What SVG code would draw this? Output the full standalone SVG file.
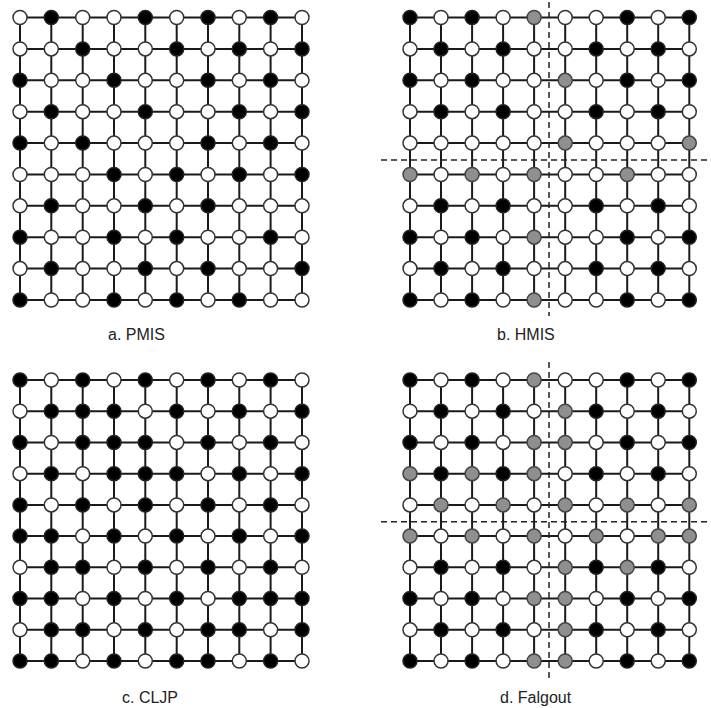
<svg xmlns="http://www.w3.org/2000/svg" xmlns:xlink="http://www.w3.org/1999/xlink" width="711" height="708" viewBox="0 0 711 708">
<style>
.edge{fill:none;stroke:#1a1a1a;stroke-width:2}
.dash{fill:none;stroke:#222;stroke-width:1.5;stroke-dasharray:6 4}
.w{fill:#fff;stroke:#333;stroke-width:1.5}
.b{fill:#000;stroke:#222;stroke-width:1.5}
.g{fill:#8f8f8f;stroke:#444;stroke-width:1.5}
.lbl{font-family:"Liberation Sans",Arial,sans-serif;font-size:16px;fill:#222}
</style>
<defs>
<circle id="W" r="7" class="w"/>
<circle id="B" r="7" class="b"/>
<circle id="G" r="7" class="g"/>
</defs>
<rect width="711" height="708" fill="#fff"/>
<g id="connectors">
<path id="edges-a" class="edge" d="M20 17.5H302M20 48.9H302M20 80.3H302M20 111.7H302M20 143.1H302M20 174.5H302M20 205.8H302M20 237.2H302M20 268.6H302M20 300H302M20 17.5V300M51.3 17.5V300M82.7 17.5V300M114 17.5V300M145.3 17.5V300M176.7 17.5V300M208 17.5V300M239.3 17.5V300M270.6 17.5V300M302 17.5V300"/>
<path id="edges-b" class="edge" d="M410 17.5H689.3M410 48.9H689.3M410 80.3H689.3M410 111.7H689.3M410 143.1H689.3M410 174.5H689.3M410 205.8H689.3M410 237.2H689.3M410 268.6H689.3M410 300H689.3M410 17.5V300M441 17.5V300M472.1 17.5V300M503.1 17.5V300M534.1 17.5V300M565.2 17.5V300M596.2 17.5V300M627.2 17.5V300M658.2 17.5V300M689.3 17.5V300"/>
<path id="edges-c" class="edge" d="M20 380H302M20 411.2H302M20 442.4H302M20 473.7H302M20 504.9H302M20 536.1H302M20 567.3H302M20 598.5H302M20 629.8H302M20 661H302M20 380V661M51.3 380V661M82.7 380V661M114 380V661M145.3 380V661M176.7 380V661M208 380V661M239.3 380V661M270.6 380V661M302 380V661"/>
<path id="edges-d" class="edge" d="M410 380H689.3M410 411.2H689.3M410 442.4H689.3M410 473.7H689.3M410 504.9H689.3M410 536.1H689.3M410 567.3H689.3M410 598.5H689.3M410 629.8H689.3M410 661H689.3M410 380V661M441 380V661M472.1 380V661M503.1 380V661M534.1 380V661M565.2 380V661M596.2 380V661M627.2 380V661M658.2 380V661M689.3 380V661"/>
<path id="partition-b" class="dash" d="M549 2V316M381 160H711"/>
<path id="partition-d" class="dash" d="M549 362V680M381 521.7H711"/>
</g>
<g id="grid-a">
<g transform="translate(0,17.5)"><use id="a1-1" href="#W" x="20"/><use id="a1-2" href="#B" x="51.3"/><use id="a1-3" href="#W" x="82.7"/><use id="a1-4" href="#W" x="114"/><use id="a1-5" href="#B" x="145.3"/><use id="a1-6" href="#W" x="176.7"/><use id="a1-7" href="#B" x="208"/><use id="a1-8" href="#W" x="239.3"/><use id="a1-9" href="#B" x="270.6"/><use id="a1-10" href="#W" x="302"/></g>
<g transform="translate(0,48.9)"><use id="a2-1" href="#W" x="20"/><use id="a2-2" href="#W" x="51.3"/><use id="a2-3" href="#B" x="82.7"/><use id="a2-4" href="#W" x="114"/><use id="a2-5" href="#W" x="145.3"/><use id="a2-6" href="#B" x="176.7"/><use id="a2-7" href="#W" x="208"/><use id="a2-8" href="#B" x="239.3"/><use id="a2-9" href="#W" x="270.6"/><use id="a2-10" href="#B" x="302"/></g>
<g transform="translate(0,80.3)"><use id="a3-1" href="#B" x="20"/><use id="a3-2" href="#W" x="51.3"/><use id="a3-3" href="#W" x="82.7"/><use id="a3-4" href="#B" x="114"/><use id="a3-5" href="#W" x="145.3"/><use id="a3-6" href="#W" x="176.7"/><use id="a3-7" href="#B" x="208"/><use id="a3-8" href="#W" x="239.3"/><use id="a3-9" href="#B" x="270.6"/><use id="a3-10" href="#W" x="302"/></g>
<g transform="translate(0,111.7)"><use id="a4-1" href="#W" x="20"/><use id="a4-2" href="#B" x="51.3"/><use id="a4-3" href="#W" x="82.7"/><use id="a4-4" href="#W" x="114"/><use id="a4-5" href="#B" x="145.3"/><use id="a4-6" href="#W" x="176.7"/><use id="a4-7" href="#W" x="208"/><use id="a4-8" href="#B" x="239.3"/><use id="a4-9" href="#W" x="270.6"/><use id="a4-10" href="#B" x="302"/></g>
<g transform="translate(0,143.1)"><use id="a5-1" href="#B" x="20"/><use id="a5-2" href="#W" x="51.3"/><use id="a5-3" href="#B" x="82.7"/><use id="a5-4" href="#W" x="114"/><use id="a5-5" href="#W" x="145.3"/><use id="a5-6" href="#W" x="176.7"/><use id="a5-7" href="#B" x="208"/><use id="a5-8" href="#W" x="239.3"/><use id="a5-9" href="#B" x="270.6"/><use id="a5-10" href="#W" x="302"/></g>
<g transform="translate(0,174.5)"><use id="a6-1" href="#W" x="20"/><use id="a6-2" href="#W" x="51.3"/><use id="a6-3" href="#W" x="82.7"/><use id="a6-4" href="#B" x="114"/><use id="a6-5" href="#W" x="145.3"/><use id="a6-6" href="#B" x="176.7"/><use id="a6-7" href="#W" x="208"/><use id="a6-8" href="#B" x="239.3"/><use id="a6-9" href="#W" x="270.6"/><use id="a6-10" href="#B" x="302"/></g>
<g transform="translate(0,205.8)"><use id="a7-1" href="#W" x="20"/><use id="a7-2" href="#B" x="51.3"/><use id="a7-3" href="#W" x="82.7"/><use id="a7-4" href="#W" x="114"/><use id="a7-5" href="#B" x="145.3"/><use id="a7-6" href="#W" x="176.7"/><use id="a7-7" href="#B" x="208"/><use id="a7-8" href="#W" x="239.3"/><use id="a7-9" href="#W" x="270.6"/><use id="a7-10" href="#W" x="302"/></g>
<g transform="translate(0,237.2)"><use id="a8-1" href="#B" x="20"/><use id="a8-2" href="#W" x="51.3"/><use id="a8-3" href="#W" x="82.7"/><use id="a8-4" href="#B" x="114"/><use id="a8-5" href="#W" x="145.3"/><use id="a8-6" href="#B" x="176.7"/><use id="a8-7" href="#W" x="208"/><use id="a8-8" href="#W" x="239.3"/><use id="a8-9" href="#B" x="270.6"/><use id="a8-10" href="#W" x="302"/></g>
<g transform="translate(0,268.6)"><use id="a9-1" href="#W" x="20"/><use id="a9-2" href="#B" x="51.3"/><use id="a9-3" href="#W" x="82.7"/><use id="a9-4" href="#W" x="114"/><use id="a9-5" href="#B" x="145.3"/><use id="a9-6" href="#W" x="176.7"/><use id="a9-7" href="#B" x="208"/><use id="a9-8" href="#W" x="239.3"/><use id="a9-9" href="#W" x="270.6"/><use id="a9-10" href="#B" x="302"/></g>
<g transform="translate(0,300)"><use id="a10-1" href="#B" x="20"/><use id="a10-2" href="#W" x="51.3"/><use id="a10-3" href="#W" x="82.7"/><use id="a10-4" href="#B" x="114"/><use id="a10-5" href="#W" x="145.3"/><use id="a10-6" href="#B" x="176.7"/><use id="a10-7" href="#W" x="208"/><use id="a10-8" href="#B" x="239.3"/><use id="a10-9" href="#W" x="270.6"/><use id="a10-10" href="#W" x="302"/></g>
</g>
<g id="grid-b">
<g transform="translate(0,17.5)"><use id="b1-1" href="#B" x="410"/><use id="b1-2" href="#W" x="441"/><use id="b1-3" href="#B" x="472.1"/><use id="b1-4" href="#W" x="503.1"/><use id="b1-5" href="#G" x="534.1"/><use id="b1-6" href="#W" x="565.2"/><use id="b1-7" href="#W" x="596.2"/><use id="b1-8" href="#B" x="627.2"/><use id="b1-9" href="#W" x="658.2"/><use id="b1-10" href="#B" x="689.3"/></g>
<g transform="translate(0,48.9)"><use id="b2-1" href="#W" x="410"/><use id="b2-2" href="#B" x="441"/><use id="b2-3" href="#W" x="472.1"/><use id="b2-4" href="#B" x="503.1"/><use id="b2-5" href="#W" x="534.1"/><use id="b2-6" href="#W" x="565.2"/><use id="b2-7" href="#B" x="596.2"/><use id="b2-8" href="#W" x="627.2"/><use id="b2-9" href="#B" x="658.2"/><use id="b2-10" href="#W" x="689.3"/></g>
<g transform="translate(0,80.3)"><use id="b3-1" href="#B" x="410"/><use id="b3-2" href="#W" x="441"/><use id="b3-3" href="#B" x="472.1"/><use id="b3-4" href="#W" x="503.1"/><use id="b3-5" href="#W" x="534.1"/><use id="b3-6" href="#G" x="565.2"/><use id="b3-7" href="#W" x="596.2"/><use id="b3-8" href="#B" x="627.2"/><use id="b3-9" href="#W" x="658.2"/><use id="b3-10" href="#B" x="689.3"/></g>
<g transform="translate(0,111.7)"><use id="b4-1" href="#W" x="410"/><use id="b4-2" href="#B" x="441"/><use id="b4-3" href="#W" x="472.1"/><use id="b4-4" href="#B" x="503.1"/><use id="b4-5" href="#W" x="534.1"/><use id="b4-6" href="#W" x="565.2"/><use id="b4-7" href="#B" x="596.2"/><use id="b4-8" href="#W" x="627.2"/><use id="b4-9" href="#B" x="658.2"/><use id="b4-10" href="#W" x="689.3"/></g>
<g transform="translate(0,143.1)"><use id="b5-1" href="#W" x="410"/><use id="b5-2" href="#W" x="441"/><use id="b5-3" href="#W" x="472.1"/><use id="b5-4" href="#W" x="503.1"/><use id="b5-5" href="#W" x="534.1"/><use id="b5-6" href="#G" x="565.2"/><use id="b5-7" href="#W" x="596.2"/><use id="b5-8" href="#W" x="627.2"/><use id="b5-9" href="#W" x="658.2"/><use id="b5-10" href="#G" x="689.3"/></g>
<g transform="translate(0,174.5)"><use id="b6-1" href="#G" x="410"/><use id="b6-2" href="#W" x="441"/><use id="b6-3" href="#G" x="472.1"/><use id="b6-4" href="#W" x="503.1"/><use id="b6-5" href="#G" x="534.1"/><use id="b6-6" href="#W" x="565.2"/><use id="b6-7" href="#W" x="596.2"/><use id="b6-8" href="#G" x="627.2"/><use id="b6-9" href="#W" x="658.2"/><use id="b6-10" href="#W" x="689.3"/></g>
<g transform="translate(0,205.8)"><use id="b7-1" href="#W" x="410"/><use id="b7-2" href="#B" x="441"/><use id="b7-3" href="#W" x="472.1"/><use id="b7-4" href="#B" x="503.1"/><use id="b7-5" href="#W" x="534.1"/><use id="b7-6" href="#W" x="565.2"/><use id="b7-7" href="#B" x="596.2"/><use id="b7-8" href="#W" x="627.2"/><use id="b7-9" href="#B" x="658.2"/><use id="b7-10" href="#W" x="689.3"/></g>
<g transform="translate(0,237.2)"><use id="b8-1" href="#B" x="410"/><use id="b8-2" href="#W" x="441"/><use id="b8-3" href="#B" x="472.1"/><use id="b8-4" href="#W" x="503.1"/><use id="b8-5" href="#G" x="534.1"/><use id="b8-6" href="#W" x="565.2"/><use id="b8-7" href="#W" x="596.2"/><use id="b8-8" href="#B" x="627.2"/><use id="b8-9" href="#W" x="658.2"/><use id="b8-10" href="#B" x="689.3"/></g>
<g transform="translate(0,268.6)"><use id="b9-1" href="#W" x="410"/><use id="b9-2" href="#B" x="441"/><use id="b9-3" href="#W" x="472.1"/><use id="b9-4" href="#B" x="503.1"/><use id="b9-5" href="#W" x="534.1"/><use id="b9-6" href="#W" x="565.2"/><use id="b9-7" href="#B" x="596.2"/><use id="b9-8" href="#W" x="627.2"/><use id="b9-9" href="#B" x="658.2"/><use id="b9-10" href="#W" x="689.3"/></g>
<g transform="translate(0,300)"><use id="b10-1" href="#B" x="410"/><use id="b10-2" href="#W" x="441"/><use id="b10-3" href="#B" x="472.1"/><use id="b10-4" href="#W" x="503.1"/><use id="b10-5" href="#G" x="534.1"/><use id="b10-6" href="#W" x="565.2"/><use id="b10-7" href="#W" x="596.2"/><use id="b10-8" href="#B" x="627.2"/><use id="b10-9" href="#W" x="658.2"/><use id="b10-10" href="#B" x="689.3"/></g>
</g>
<g id="grid-c">
<g transform="translate(0,380)"><use id="c1-1" href="#B" x="20"/><use id="c1-2" href="#W" x="51.3"/><use id="c1-3" href="#B" x="82.7"/><use id="c1-4" href="#W" x="114"/><use id="c1-5" href="#B" x="145.3"/><use id="c1-6" href="#W" x="176.7"/><use id="c1-7" href="#B" x="208"/><use id="c1-8" href="#W" x="239.3"/><use id="c1-9" href="#B" x="270.6"/><use id="c1-10" href="#W" x="302"/></g>
<g transform="translate(0,411.2)"><use id="c2-1" href="#W" x="20"/><use id="c2-2" href="#B" x="51.3"/><use id="c2-3" href="#B" x="82.7"/><use id="c2-4" href="#B" x="114"/><use id="c2-5" href="#W" x="145.3"/><use id="c2-6" href="#B" x="176.7"/><use id="c2-7" href="#W" x="208"/><use id="c2-8" href="#B" x="239.3"/><use id="c2-9" href="#W" x="270.6"/><use id="c2-10" href="#B" x="302"/></g>
<g transform="translate(0,442.4)"><use id="c3-1" href="#B" x="20"/><use id="c3-2" href="#W" x="51.3"/><use id="c3-3" href="#B" x="82.7"/><use id="c3-4" href="#B" x="114"/><use id="c3-5" href="#B" x="145.3"/><use id="c3-6" href="#W" x="176.7"/><use id="c3-7" href="#B" x="208"/><use id="c3-8" href="#W" x="239.3"/><use id="c3-9" href="#B" x="270.6"/><use id="c3-10" href="#W" x="302"/></g>
<g transform="translate(0,473.7)"><use id="c4-1" href="#W" x="20"/><use id="c4-2" href="#B" x="51.3"/><use id="c4-3" href="#W" x="82.7"/><use id="c4-4" href="#B" x="114"/><use id="c4-5" href="#B" x="145.3"/><use id="c4-6" href="#B" x="176.7"/><use id="c4-7" href="#W" x="208"/><use id="c4-8" href="#B" x="239.3"/><use id="c4-9" href="#W" x="270.6"/><use id="c4-10" href="#B" x="302"/></g>
<g transform="translate(0,504.9)"><use id="c5-1" href="#B" x="20"/><use id="c5-2" href="#W" x="51.3"/><use id="c5-3" href="#B" x="82.7"/><use id="c5-4" href="#W" x="114"/><use id="c5-5" href="#B" x="145.3"/><use id="c5-6" href="#W" x="176.7"/><use id="c5-7" href="#B" x="208"/><use id="c5-8" href="#W" x="239.3"/><use id="c5-9" href="#B" x="270.6"/><use id="c5-10" href="#W" x="302"/></g>
<g transform="translate(0,536.1)"><use id="c6-1" href="#B" x="20"/><use id="c6-2" href="#B" x="51.3"/><use id="c6-3" href="#W" x="82.7"/><use id="c6-4" href="#B" x="114"/><use id="c6-5" href="#W" x="145.3"/><use id="c6-6" href="#B" x="176.7"/><use id="c6-7" href="#W" x="208"/><use id="c6-8" href="#B" x="239.3"/><use id="c6-9" href="#W" x="270.6"/><use id="c6-10" href="#B" x="302"/></g>
<g transform="translate(0,567.3)"><use id="c7-1" href="#W" x="20"/><use id="c7-2" href="#B" x="51.3"/><use id="c7-3" href="#B" x="82.7"/><use id="c7-4" href="#W" x="114"/><use id="c7-5" href="#B" x="145.3"/><use id="c7-6" href="#W" x="176.7"/><use id="c7-7" href="#B" x="208"/><use id="c7-8" href="#W" x="239.3"/><use id="c7-9" href="#B" x="270.6"/><use id="c7-10" href="#W" x="302"/></g>
<g transform="translate(0,598.5)"><use id="c8-1" href="#B" x="20"/><use id="c8-2" href="#B" x="51.3"/><use id="c8-3" href="#W" x="82.7"/><use id="c8-4" href="#B" x="114"/><use id="c8-5" href="#W" x="145.3"/><use id="c8-6" href="#B" x="176.7"/><use id="c8-7" href="#W" x="208"/><use id="c8-8" href="#B" x="239.3"/><use id="c8-9" href="#B" x="270.6"/><use id="c8-10" href="#B" x="302"/></g>
<g transform="translate(0,629.8)"><use id="c9-1" href="#W" x="20"/><use id="c9-2" href="#B" x="51.3"/><use id="c9-3" href="#B" x="82.7"/><use id="c9-4" href="#W" x="114"/><use id="c9-5" href="#B" x="145.3"/><use id="c9-6" href="#W" x="176.7"/><use id="c9-7" href="#B" x="208"/><use id="c9-8" href="#B" x="239.3"/><use id="c9-9" href="#W" x="270.6"/><use id="c9-10" href="#B" x="302"/></g>
<g transform="translate(0,661)"><use id="c10-1" href="#B" x="20"/><use id="c10-2" href="#B" x="51.3"/><use id="c10-3" href="#W" x="82.7"/><use id="c10-4" href="#B" x="114"/><use id="c10-5" href="#W" x="145.3"/><use id="c10-6" href="#B" x="176.7"/><use id="c10-7" href="#B" x="208"/><use id="c10-8" href="#W" x="239.3"/><use id="c10-9" href="#B" x="270.6"/><use id="c10-10" href="#W" x="302"/></g>
</g>
<g id="grid-d">
<g transform="translate(0,380)"><use id="d1-1" href="#B" x="410"/><use id="d1-2" href="#W" x="441"/><use id="d1-3" href="#B" x="472.1"/><use id="d1-4" href="#W" x="503.1"/><use id="d1-5" href="#G" x="534.1"/><use id="d1-6" href="#W" x="565.2"/><use id="d1-7" href="#W" x="596.2"/><use id="d1-8" href="#B" x="627.2"/><use id="d1-9" href="#W" x="658.2"/><use id="d1-10" href="#B" x="689.3"/></g>
<g transform="translate(0,411.2)"><use id="d2-1" href="#W" x="410"/><use id="d2-2" href="#B" x="441"/><use id="d2-3" href="#W" x="472.1"/><use id="d2-4" href="#B" x="503.1"/><use id="d2-5" href="#W" x="534.1"/><use id="d2-6" href="#G" x="565.2"/><use id="d2-7" href="#B" x="596.2"/><use id="d2-8" href="#W" x="627.2"/><use id="d2-9" href="#B" x="658.2"/><use id="d2-10" href="#W" x="689.3"/></g>
<g transform="translate(0,442.4)"><use id="d3-1" href="#B" x="410"/><use id="d3-2" href="#W" x="441"/><use id="d3-3" href="#B" x="472.1"/><use id="d3-4" href="#W" x="503.1"/><use id="d3-5" href="#G" x="534.1"/><use id="d3-6" href="#G" x="565.2"/><use id="d3-7" href="#W" x="596.2"/><use id="d3-8" href="#B" x="627.2"/><use id="d3-9" href="#W" x="658.2"/><use id="d3-10" href="#B" x="689.3"/></g>
<g transform="translate(0,473.7)"><use id="d4-1" href="#G" x="410"/><use id="d4-2" href="#B" x="441"/><use id="d4-3" href="#G" x="472.1"/><use id="d4-4" href="#B" x="503.1"/><use id="d4-5" href="#G" x="534.1"/><use id="d4-6" href="#W" x="565.2"/><use id="d4-7" href="#B" x="596.2"/><use id="d4-8" href="#W" x="627.2"/><use id="d4-9" href="#B" x="658.2"/><use id="d4-10" href="#W" x="689.3"/></g>
<g transform="translate(0,504.9)"><use id="d5-1" href="#W" x="410"/><use id="d5-2" href="#G" x="441"/><use id="d5-3" href="#W" x="472.1"/><use id="d5-4" href="#G" x="503.1"/><use id="d5-5" href="#W" x="534.1"/><use id="d5-6" href="#G" x="565.2"/><use id="d5-7" href="#W" x="596.2"/><use id="d5-8" href="#G" x="627.2"/><use id="d5-9" href="#W" x="658.2"/><use id="d5-10" href="#G" x="689.3"/></g>
<g transform="translate(0,536.1)"><use id="d6-1" href="#G" x="410"/><use id="d6-2" href="#W" x="441"/><use id="d6-3" href="#G" x="472.1"/><use id="d6-4" href="#W" x="503.1"/><use id="d6-5" href="#G" x="534.1"/><use id="d6-6" href="#W" x="565.2"/><use id="d6-7" href="#G" x="596.2"/><use id="d6-8" href="#W" x="627.2"/><use id="d6-9" href="#G" x="658.2"/><use id="d6-10" href="#G" x="689.3"/></g>
<g transform="translate(0,567.3)"><use id="d7-1" href="#W" x="410"/><use id="d7-2" href="#B" x="441"/><use id="d7-3" href="#W" x="472.1"/><use id="d7-4" href="#B" x="503.1"/><use id="d7-5" href="#W" x="534.1"/><use id="d7-6" href="#G" x="565.2"/><use id="d7-7" href="#B" x="596.2"/><use id="d7-8" href="#G" x="627.2"/><use id="d7-9" href="#B" x="658.2"/><use id="d7-10" href="#W" x="689.3"/></g>
<g transform="translate(0,598.5)"><use id="d8-1" href="#B" x="410"/><use id="d8-2" href="#W" x="441"/><use id="d8-3" href="#B" x="472.1"/><use id="d8-4" href="#W" x="503.1"/><use id="d8-5" href="#G" x="534.1"/><use id="d8-6" href="#G" x="565.2"/><use id="d8-7" href="#W" x="596.2"/><use id="d8-8" href="#B" x="627.2"/><use id="d8-9" href="#W" x="658.2"/><use id="d8-10" href="#B" x="689.3"/></g>
<g transform="translate(0,629.8)"><use id="d9-1" href="#W" x="410"/><use id="d9-2" href="#B" x="441"/><use id="d9-3" href="#W" x="472.1"/><use id="d9-4" href="#B" x="503.1"/><use id="d9-5" href="#W" x="534.1"/><use id="d9-6" href="#G" x="565.2"/><use id="d9-7" href="#B" x="596.2"/><use id="d9-8" href="#W" x="627.2"/><use id="d9-9" href="#B" x="658.2"/><use id="d9-10" href="#W" x="689.3"/></g>
<g transform="translate(0,661)"><use id="d10-1" href="#B" x="410"/><use id="d10-2" href="#W" x="441"/><use id="d10-3" href="#B" x="472.1"/><use id="d10-4" href="#W" x="503.1"/><use id="d10-5" href="#G" x="534.1"/><use id="d10-6" href="#G" x="565.2"/><use id="d10-7" href="#W" x="596.2"/><use id="d10-8" href="#B" x="627.2"/><use id="d10-9" href="#W" x="658.2"/><use id="d10-10" href="#B" x="689.3"/></g>
</g>
<g id="labels">
<text class="lbl" x="108" y="340">a. PMIS</text>
<text class="lbl" x="497" y="340">b. HMIS</text>
<text class="lbl" x="122" y="703">c. CLJP</text>
<text class="lbl" x="500" y="703">d. Falgout</text>
</g>
</svg>
